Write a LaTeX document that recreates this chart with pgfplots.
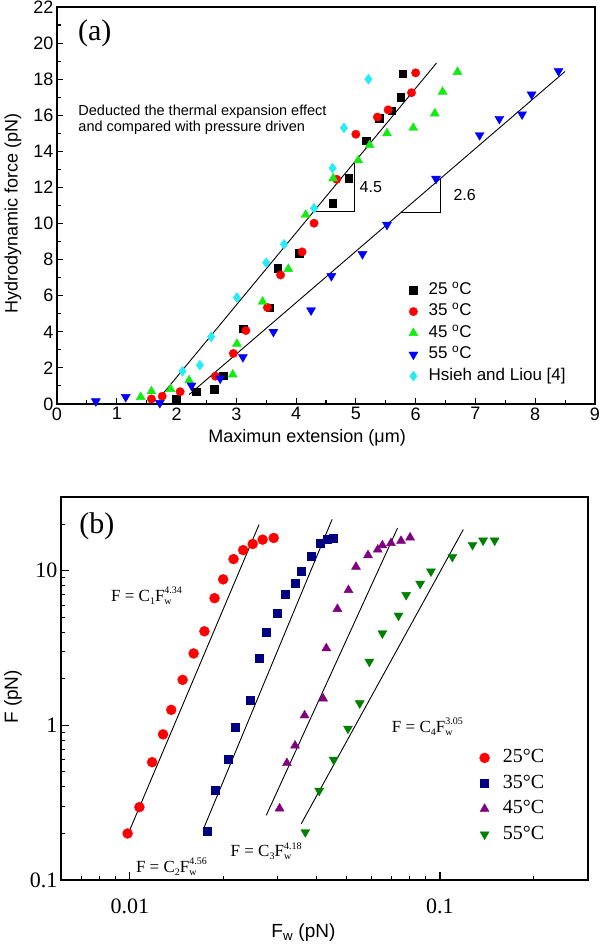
\documentclass[border=0pt]{standalone}
\usepackage{fontspec}
\setmainfont{Liberation Sans}
\newfontfamily\tnr{Liberation Serif}
\usepackage{pgfplots}
\pgfplotsset{compat=1.18}

\definecolor{gA}{RGB}{20,235,20}
\definecolor{cA}{RGB}{40,235,245}
\definecolor{navyB}{RGB}{0,0,128}
\definecolor{purpB}{RGB}{128,0,128}
\definecolor{greenB}{RGB}{0,128,0}

\newcommand{\fsz}[1]{\fontsize{#1}{#1}\selectfont}
% F with stacked subscript w and superscript exponent
\newcommand{\Fw}[1]{F\makebox[0pt][l]{\raisebox{-0.45ex}{\fsz{10}w}}\raisebox{0.95ex}{\fsz{10}#1}}
\newcommand{\eqn}[2]{F = C\raisebox{-0.45ex}{\fsz{10}#1}\Fw{#2}}

\begin{document}
\begin{tikzpicture}[x=1pt,y=1pt]
\useasboundingbox (0,0) rectangle (600,944);

% ---------------- panel (a)
\begin{axis}[
  at={(57pt,540pt)}, anchor=south west, scale only axis,
  width=538pt, height=397pt,
  xmin=0, xmax=9, ymin=0, ymax=22,
  xtick={0,...,9}, ytick={0,2,...,22},
  minor x tick num=1, minor y tick num=1,
  tick align=inside, xtick pos=bottom, ytick pos=left,
  major tick length=6pt, minor tick length=3.5pt,
  axis line style={line width=1.6pt},
  every tick/.style={black, line width=1.1pt},
  ticklabel style={font=\fsz{18}},
  /pgf/number format/assume math mode=true,
  xlabel={Maximun extension (μm)},
  ylabel={Hydrodynamic force (pN)},
  label style={font=\fsz{18}},
  xlabel style={at={(axis description cs:0.465,-0.086)}, anchor=center},
  ylabel style={at={(axis description cs:-0.082,0.48)}, anchor=center},
  legend style={at={(axis description cs:0.645,0.312)}, anchor=north west,
    draw=none, fill=none, inner sep=0pt, font=\fsz{17}, row sep=2pt,
    nodes={text height=12pt, text depth=3.5pt, inner ysep=2pt},
    cells={anchor=west}},
  legend image code/.code={\path (0pt,0pt) (22pt,0pt);
    \draw[mark repeat=2,mark phase=2,#1]
    plot coordinates {(0pt,0pt)(9pt,0pt)(22pt,0pt)};},
]
\addplot[only marks, mark=square*, mark size=3.8pt, black] coordinates {
(1.99,0.28)(2.33,0.68)(2.63,0.83)(2.78,1.57)(3.11,4.17)(3.56,5.33)(3.69,7.52)
(4.05,8.35)(4.61,11.13)(4.88,12.5)(5.17,14.6)(5.39,15.85)(5.60,16.25)(5.75,17.0)(5.78,18.3)};
\addplot[only marks, mark=*, mark size=4.2pt, red] coordinates {
(1.58,0.28)(1.76,0.43)(2.06,0.68)(2.65,1.54)(2.95,2.8)(3.16,4.07)(3.52,5.35)(3.74,7.15)
(4.10,8.43)(4.30,10.02)(4.68,12.45)(5.00,14.95)(5.36,15.9)(5.54,16.3)(5.93,17.25)(6.00,18.35)};
\addplot[only marks, mark=triangle*, mark size=5.2pt, gA] coordinates {
(1.40,0.39)(1.58,0.70)(1.90,0.83)(2.21,1.31)(2.94,1.63)(3.01,3.33)(3.44,5.67)(3.87,7.48)
(4.16,10.48)(4.62,12.5)(5.04,13.5)(5.23,14.35)(5.52,15.0)(5.96,15.3)(6.32,16.1)(6.45,17.3)(6.70,18.4)};
\addplot[only marks, mark=triangle*, mark size=5.2pt, mark options={rotate=180}, blue] coordinates {
(0.65,0.15)(1.15,0.39)(1.72,0.06)(2.25,1.02)(2.73,1.41)(3.11,2.6)(3.62,4.0)(4.25,5.19)
(4.59,7.09)(5.11,8.31)(5.52,9.93)(6.34,12.48)(7.07,14.9)(7.40,15.8)(7.78,16.05)(7.94,17.15)(8.39,18.45)};
\addplot[only marks, mark=diamond*, mark size=5pt, cA] coordinates {
(2.10,1.81)(2.39,2.15)(2.58,3.72)(3.01,5.9)(3.50,7.83)(3.80,8.85)(4.30,10.85)(4.61,13.07)(4.80,15.3)(5.21,18.0)};
\legend{25 \textsuperscript{o}C, 35 \textsuperscript{o}C, 45 \textsuperscript{o}C, 55 \textsuperscript{o}C, Hsieh and Liou [4]}

% fitted lines and slope triangles
\addplot[black, line width=0.9pt, forget plot] coordinates {(1.76,0.52)(6.35,18.9)};
\addplot[black, line width=0.9pt, forget plot] coordinates {(2.21,0.52)(8.50,18.43)};
\addplot[black, line width=0.9pt, forget plot] coordinates {(4.30,10.67)(4.98,10.67)(4.98,13.41)};
\addplot[black, line width=0.9pt, forget plot] coordinates {(5.75,10.6)(6.41,10.6)(6.41,12.48)};

\node[font=\tnr\fsz{30}] at (axis cs:0.63,20.55) {(a)};
\node[font=\fontsize{14.5}{16.5}\selectfont, anchor=west, align=left] at (axis cs:0.30,15.75)
  {Deducted the thermal expansion effect\\and compared with pressure driven};
\node[font=\fsz{16}] at (axis cs:5.25,12.0) {4.5};
\node[font=\fsz{16}] at (axis cs:6.82,11.58) {2.6};
\end{axis}

% ---------------- panel (b)
\begin{axis}[
  at={(61pt,64pt)}, anchor=south west, scale only axis,
  width=527pt, height=383pt,
  xmode=log, ymode=log,
  xmin=0.006, xmax=0.3, ymin=0.1, ymax=30,
  xtick={0.01,0.1}, xticklabels={0.01,0.1},
  ytick={0.1,1,10}, yticklabels={0.1,1,10},
  minor xtick={0.007,0.008,0.009,0.02,0.03,0.04,0.05,0.06,0.07,0.08,0.09,0.2},
  minor ytick={0.2,0.3,0.4,0.5,0.6,0.7,0.8,0.9,2,3,4,5,6,7,8,9,20},
  tick align=inside, xtick pos=bottom, ytick pos=left,
  major tick length=8pt, minor tick length=4.5pt,
  axis line style={line width=1.6pt},
  every tick/.style={black, line width=1.1pt},
  ticklabel style={font=\tnr\fsz{22}},
  xticklabel style={yshift=-15pt},
  xlabel={F\textsubscript{w} (pN)},
  ylabel={F (pN)},
  label style={font=\fsz{19}},
  xlabel style={at={(axis description cs:0.46,-0.138)}, anchor=center},
  ylabel style={at={(axis description cs:-0.091,0.478)}, anchor=center},
  legend style={at={(axis description cs:0.786,0.348)}, anchor=north west,
    draw=none, fill=none, inner sep=0pt, font=\tnr\fsz{20}, row sep=3.5pt,
    nodes={text height=14pt, text depth=4pt, inner ysep=2pt},
    cells={anchor=west}},
  legend image code/.code={\path (0pt,0pt) (25pt,0pt);
    \draw[mark repeat=2,mark phase=2,#1]
    plot coordinates {(0pt,0pt)(9pt,0pt)(25pt,0pt)};},
]
\addplot[only marks, mark=*, mark size=5pt, red] coordinates {
(0.00984,0.20)(0.01074,0.296)(0.0118,0.578)(0.0128,0.875)(0.0136,1.26)(0.0148,1.97)
(0.01606,2.92)(0.0174,4.06)(0.01876,6.65)(0.0200,8.8)(0.0216,11.9)(0.0232,13.6)
(0.0249,14.9)(0.0268,15.9)(0.0291,16.3)};
\addplot[only marks, mark=square*, mark size=4pt, navyB] coordinates {
(0.01777,0.206)(0.0189,0.38)(0.0207,0.608)(0.0219,0.97)(0.0244,1.45)(0.0262,2.71)
(0.0276,4.0)(0.0298,5.28)(0.0316,7.09)(0.0341,8.36)(0.0356,10.0)(0.0384,12.5)
(0.0411,15.1)(0.0432,16.0)(0.0454,16.3)};
\addplot[only marks, mark=triangle*, mark size=5.2pt, purpB] coordinates {
(0.0304,0.29)(0.0321,0.57)(0.0341,0.74)(0.0366,1.16)(0.0420,1.49)(0.0430,3.15)
(0.0467,5.66)(0.0507,7.5)(0.0536,10.6)(0.0586,12.6)(0.0630,13.7)(0.0652,14.6)
(0.0695,15.1)(0.0749,15.6)(0.0801,16.4)};
\addplot[only marks, mark=triangle*, mark size=5.2pt, mark options={rotate=180}, greenB] coordinates {
(0.0368,0.204)(0.0408,0.378)(0.0454,0.60)(0.0505,0.953)(0.0551,1.39)(0.0592,2.58)
(0.0652,3.94)(0.0735,5.13)(0.0778,6.98)(0.0863,8.24)(0.0935,9.9)(0.1096,12.3)
(0.1273,14.7)(0.1377,15.7)(0.1500,15.7)};
\legend{25°C, 35°C, 45°C, 55°C}

% power-law fits
\addplot[black, line width=0.9pt, forget plot] coordinates {(0.00995,0.206)(0.0261,19.9)};
\addplot[black, line width=0.9pt, forget plot] coordinates {(0.01726,0.213)(0.0449,21.5)};
\addplot[black, line width=0.9pt, forget plot] coordinates {(0.02754,0.262)(0.0730,18.9)};
\addplot[black, line width=0.9pt, forget plot] coordinates {(0.0357,0.231)(0.1189,18.5)};

\node[font=\tnr\fsz{30}] at (axis cs:0.00783,19.3) {(b)};
\node[font=\tnr\fsz{17}, anchor=base west] at (axis cs:0.00848,6.34) {\eqn{1}{4.34}};
\node[font=\tnr\fsz{17}, anchor=base west] at (axis cs:0.0102,0.112) {\eqn{2}{4.56}};
\node[font=\tnr\fsz{17}, anchor=base west] at (axis cs:0.0206,0.142) {\eqn{3}{4.18}};
\node[font=\tnr\fsz{17}, anchor=base west] at (axis cs:0.0682,0.904) {\eqn{4}{3.05}};
\end{axis}
\end{tikzpicture}
\end{document}
